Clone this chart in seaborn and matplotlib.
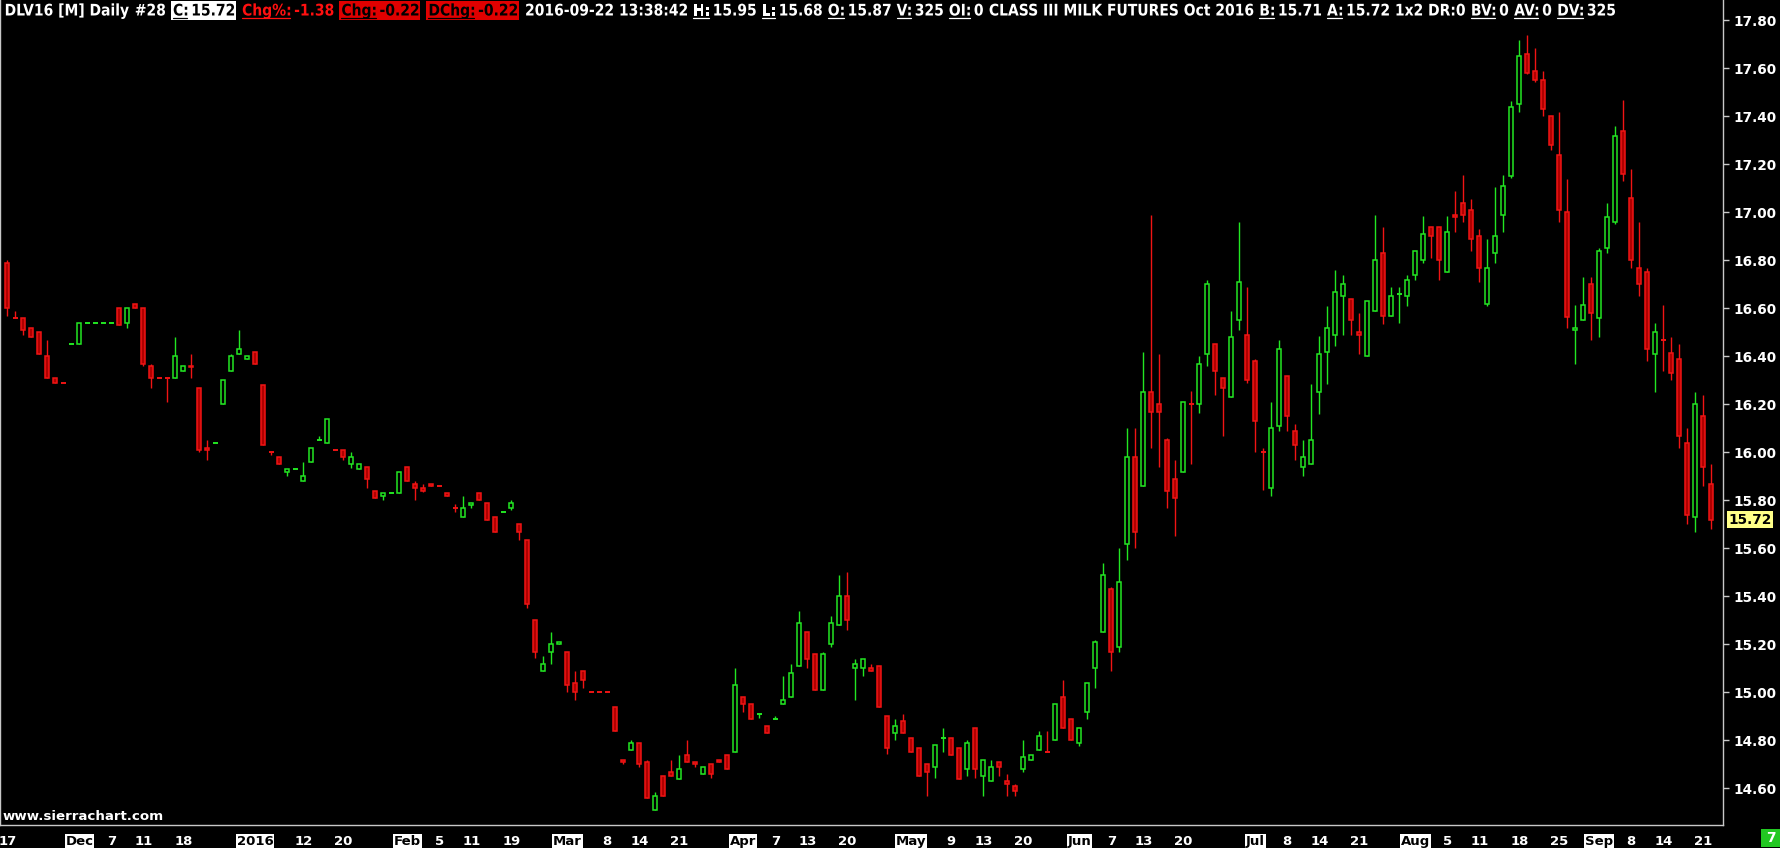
import numpy as np
import pandas as pd
import matplotlib
matplotlib.use("Agg")
import matplotlib.pyplot as plt
from matplotlib.patches import Rectangle, PathPatch
from matplotlib.lines import Line2D
from matplotlib.textpath import TextPath
from matplotlib.font_manager import FontProperties
from matplotlib.transforms import Affine2D
import seaborn as sns

# ---------------- data ----------------
open_ = [16.79, 16.56, 16.56, 16.52, 16.50, 16.40, 16.31, 16.29, 16.45, 16.45,
         16.54, 16.54, 16.54, 16.54, 16.60, 16.54, 16.62, 16.60, 16.36, 16.31,
         16.31, 16.31, 16.34, 16.36, 16.27, 16.02, 16.04, 16.20, 16.34, 16.41,
         16.39, 16.42, 16.28, 16.00, 15.98, 15.92, 15.93, 15.88, 15.96, 16.05,
         16.04, 16.01, 16.01, 15.95, 15.93, 15.94, 15.84, 15.82, 15.83, 15.83,
         15.94, 15.87, 15.85, 15.87, 15.86, 15.83, 15.77, 15.73, 15.78, 15.83,
         15.79, 15.73, 15.75, 15.77, 15.70, 15.635, 15.30, 15.09, 15.17, 15.20,
         15.17, 15.04, 15.09, 15.00, 15.00, 15.00, 14.94, 14.72, 14.76, 14.79,
         14.71, 14.51, 14.65, 14.67, 14.64, 14.74, 14.71, 14.66, 14.70, 14.72,
         14.74, 14.75, 14.98, 14.95, 14.91, 14.86, 14.89, 14.95, 14.98, 15.11,
         15.25, 15.16, 15.01, 15.20, 15.28, 15.40, 15.10, 15.10, 15.10, 15.11,
         14.90, 14.83, 14.88, 14.81, 14.77, 14.70, 14.69, 14.81, 14.81, 14.77,
         14.68, 14.85, 14.65, 14.63, 14.71, 14.63, 14.61, 14.68, 14.72, 14.76,
         14.75, 14.80, 14.98, 14.89, 14.79, 14.92, 15.10, 15.25, 15.43, 15.19,
         15.62, 15.98, 15.86, 16.25, 16.20, 16.05, 15.89, 15.92, 16.20, 16.20,
         16.41, 16.45, 16.31, 16.23, 16.55, 16.49, 16.38, 16.00, 15.85, 16.11,
         16.32, 16.09, 15.94, 15.95, 16.25, 16.42, 16.49, 16.65, 16.64, 16.50,
         16.40, 16.59, 16.83, 16.57, 16.66, 16.65, 16.74, 16.80, 16.94, 16.94,
         16.75, 16.99, 17.04, 17.01, 16.90, 16.62, 16.83, 16.99, 17.15, 17.45,
         17.66, 17.59, 17.55, 17.40, 17.24, 17.00, 16.51, 16.55, 16.70, 16.56,
         16.85, 16.96, 17.34, 17.06, 16.77, 16.75, 16.41, 16.47, 16.415, 16.39,
         16.04, 15.73, 16.15, 15.87]
high = [16.80, 16.59, 16.56, 16.52, 16.50, 16.47, 16.31, 16.29, 16.45, 16.54,
        16.54, 16.54, 16.54, 16.54, 16.60, 16.60, 16.62, 16.60, 16.37, 16.31,
        16.31, 16.48, 16.36, 16.41, 16.27, 16.05, 16.04, 16.30, 16.41, 16.51,
        16.40, 16.42, 16.28, 16.00, 15.98, 15.93, 15.93, 15.96, 16.02, 16.07,
        16.14, 16.01, 16.01, 16.00, 15.95, 15.94, 15.84, 15.83, 15.83, 15.92,
        15.94, 15.88, 15.87, 15.87, 15.86, 15.83, 15.785, 15.82, 15.79, 15.83,
        15.79, 15.73, 15.75, 15.80, 15.70, 15.635, 15.30, 15.15, 15.25, 15.21,
        15.17, 15.09, 15.09, 15.00, 15.00, 15.00, 14.94, 14.72, 14.80, 14.79,
        14.72, 14.585, 14.65, 14.72, 14.74, 14.80, 14.71, 14.69, 14.70, 14.72,
        14.74, 15.10, 14.98, 14.95, 14.91, 14.86, 14.90, 15.07, 15.12, 15.34,
        15.25, 15.16, 15.17, 15.32, 15.49, 15.50, 15.14, 15.14, 15.12, 15.11,
        14.90, 14.89, 14.91, 14.81, 14.77, 14.70, 14.78, 14.85, 14.81, 14.77,
        14.80, 14.85, 14.72, 14.72, 14.71, 14.66, 14.62, 14.80, 14.74, 14.84,
        14.84, 14.95, 15.05, 14.89, 14.85, 15.04, 15.22, 15.54, 15.44, 15.60,
        16.10, 16.10, 16.42, 16.99, 16.41, 16.06, 15.97, 16.21, 16.255, 16.40,
        16.72, 16.45, 16.31, 16.59, 16.96, 16.69, 16.39, 16.02, 16.21, 16.47,
        16.32, 16.12, 16.05, 16.285, 16.485, 16.61, 16.76, 16.74, 16.64, 16.58,
        16.63, 16.99, 16.94, 16.69, 16.69, 16.74, 16.84, 16.985, 16.94, 16.94,
        16.985, 17.09, 17.155, 17.055, 16.93, 16.89, 17.105, 17.155, 17.465, 17.72,
        17.74, 17.685, 17.59, 17.40, 17.42, 17.14, 16.615, 16.73, 16.73, 16.85,
        17.04, 17.36, 17.47, 17.18, 16.96, 16.77, 16.54, 16.615, 16.48, 16.45,
        16.10, 16.25, 16.24, 15.95]
low = [16.57, 16.56, 16.49, 16.48, 16.41, 16.31, 16.29, 16.29, 16.45, 16.45,
       16.54, 16.54, 16.54, 16.54, 16.53, 16.52, 16.60, 16.36, 16.27, 16.31,
       16.21, 16.31, 16.34, 16.31, 16.00, 15.97, 16.04, 16.20, 16.34, 16.41,
       16.39, 16.37, 16.03, 15.99, 15.95, 15.90, 15.93, 15.88, 15.96, 16.05,
       16.04, 16.01, 15.97, 15.935, 15.93, 15.85, 15.81, 15.80, 15.83, 15.83,
       15.88, 15.80, 15.835, 15.86, 15.86, 15.82, 15.75, 15.73, 15.77, 15.80,
       15.72, 15.67, 15.75, 15.76, 15.635, 15.35, 15.145, 15.09, 15.12, 15.20,
       15.00, 14.97, 15.02, 15.00, 15.00, 15.00, 14.84, 14.70, 14.76, 14.69,
       14.56, 14.51, 14.57, 14.65, 14.64, 14.71, 14.69, 14.66, 14.645, 14.71,
       14.68, 14.75, 14.92, 14.89, 14.895, 14.83, 14.89, 14.95, 14.98, 15.11,
       15.10, 15.01, 15.01, 15.19, 15.28, 15.26, 14.97, 15.07, 15.09, 14.94,
       14.745, 14.80, 14.83, 14.75, 14.65, 14.57, 14.645, 14.75, 14.74, 14.64,
       14.65, 14.645, 14.57, 14.63, 14.65, 14.57, 14.57, 14.67, 14.72, 14.76,
       14.75, 14.80, 14.85, 14.80, 14.775, 14.89, 15.02, 15.25, 15.09, 15.17,
       15.55, 15.60, 15.86, 16.02, 15.94, 15.77, 15.65, 15.92, 15.95, 16.165,
       16.36, 16.24, 16.07, 16.23, 16.51, 16.29, 16.00, 15.845, 15.82, 16.09,
       16.09, 15.97, 15.90, 15.95, 16.16, 16.285, 16.445, 16.49, 16.49, 16.41,
       16.40, 16.59, 16.535, 16.57, 16.54, 16.61, 16.72, 16.79, 16.81, 16.72,
       16.75, 16.92, 16.96, 16.84, 16.71, 16.61, 16.79, 16.92, 17.145, 17.42,
       17.575, 17.545, 17.40, 17.26, 16.96, 16.52, 16.37, 16.55, 16.47, 16.48,
       16.83, 16.95, 17.13, 16.77, 16.65, 16.38, 16.25, 16.34, 16.30, 16.02,
       15.70, 15.67, 15.86, 15.68]
close = [16.60, 16.56, 16.51, 16.48, 16.41, 16.31, 16.29, 16.29, 16.45, 16.54,
         16.54, 16.54, 16.54, 16.54, 16.53, 16.60, 16.60, 16.37, 16.31, 16.31,
         16.31, 16.40, 16.36, 16.355, 16.01, 16.01, 16.04, 16.30, 16.40, 16.43,
         16.40, 16.37, 16.03, 16.00, 15.95, 15.93, 15.93, 15.90, 16.02, 16.05,
         16.14, 16.01, 15.98, 15.98, 15.95, 15.89, 15.81, 15.83, 15.83, 15.92,
         15.88, 15.85, 15.84, 15.86, 15.86, 15.82, 15.77, 15.77, 15.79, 15.80,
         15.72, 15.67, 15.75, 15.79, 15.67, 15.37, 15.17, 15.12, 15.20, 15.21,
         15.03, 15.00, 15.05, 15.00, 15.00, 15.00, 14.84, 14.71, 14.79, 14.70,
         14.56, 14.57, 14.57, 14.65, 14.68, 14.71, 14.70, 14.69, 14.66, 14.71,
         14.68, 15.03, 14.95, 14.89, 14.91, 14.83, 14.89, 14.97, 15.08, 15.29,
         15.14, 15.01, 15.16, 15.29, 15.40, 15.30, 15.12, 15.14, 15.09, 14.94,
         14.77, 14.86, 14.83, 14.75, 14.65, 14.67, 14.78, 14.81, 14.74, 14.64,
         14.79, 14.68, 14.72, 14.69, 14.69, 14.62, 14.59, 14.73, 14.74, 14.82,
         14.75, 14.95, 14.85, 14.80, 14.85, 15.04, 15.21, 15.49, 15.17, 15.46,
         15.98, 15.67, 16.25, 16.17, 16.17, 15.84, 15.81, 16.21, 16.20, 16.37,
         16.70, 16.34, 16.27, 16.48, 16.71, 16.30, 16.13, 16.00, 16.10, 16.43,
         16.15, 16.03, 15.98, 16.05, 16.41, 16.52, 16.67, 16.70, 16.55, 16.49,
         16.63, 16.80, 16.57, 16.65, 16.66, 16.72, 16.84, 16.91, 16.90, 16.80,
         16.92, 16.98, 16.99, 16.89, 16.77, 16.77, 16.90, 17.11, 17.44, 17.65,
         17.58, 17.55, 17.43, 17.28, 17.01, 16.565, 16.52, 16.615, 16.58, 16.84,
         16.98, 17.32, 17.16, 16.80, 16.70, 16.43, 16.50, 16.47, 16.33, 16.07,
         15.74, 16.20, 15.94, 15.72]

holidays = ["2015-11-26", "2015-12-25", "2016-01-01", "2016-01-18", "2016-02-15",
            "2016-03-25", "2016-05-30", "2016-07-04", "2016-09-05"]

tick_dates = ["2015-11-17", "2015-12-01", "2015-12-07", "2015-12-11", "2015-12-18",
              "2016-01-04", "2016-01-12", "2016-01-20", "2016-02-01", "2016-02-05",
              "2016-02-11", "2016-02-19", "2016-03-01", "2016-03-08", "2016-03-14",
              "2016-03-21", "2016-04-01", "2016-04-07", "2016-04-13", "2016-04-20",
              "2016-05-02", "2016-05-09", "2016-05-13", "2016-05-20", "2016-06-01",
              "2016-06-07", "2016-06-13", "2016-06-20", "2016-07-01", "2016-07-08",
              "2016-07-14", "2016-07-21", "2016-08-01", "2016-08-05", "2016-08-11",
              "2016-08-18", "2016-08-25", "2016-09-01", "2016-09-08", "2016-09-14",
              "2016-09-21"]
tick_labels = ["17", "Dec", "7", "11", "18", "2016", "12", "20", "Feb", "5", "11", "19",
               "Mar", "8", "14", "21", "Apr", "7", "13", "20", "May", "9", "13", "20",
               "Jun", "7", "13", "20", "Jul", "8", "14", "21", "Aug", "5", "11", "18",
               "25", "Sep", "8", "14", "21"]
boxed_labels = ["Dec", "2016", "Feb", "Mar", "Apr", "May", "Jun", "Jul", "Aug", "Sep"]

price_ticks = [14.60, 14.80, 15.00, 15.20, 15.40, 15.60, 15.80, 16.00, 16.20,
               16.40, 16.60, 16.80, 17.00, 17.20, 17.40, 17.60, 17.80]
last_price = 15.72

hdr_labels = ["DLV16 [M]", "Daily", "#28", "C:", "Chg%:", "Chg:", "DChg:",
              "2016-09-22 13:38:42", "H:", "L:", "O:", "V:", "OI:",
              "CLASS III MILK FUTURES Oct 2016", "B:", "A:", "1x2", "DR:0",
              "BV:", "AV:", "DV:"]
hdr_values = [None, None, None, "15.72", "-1.38", "-0.22", "-0.22", None,
              "15.95", "15.68", "15.87", "325", "0", None, "15.71", "15.72",
              None, None, "0", "0", "325"]

# ---------------- style ----------------
sns.set_theme(style="dark", rc={"axes.facecolor": "black", "figure.facecolor": "black"})
plt.rcParams["font.family"] = ["DejaVu Sans"]

GREEN = "#22e622"
RED_EDGE = "#f01414"
RED_FILL = "#b00000"
AXIS_COL = "#c8c8c8"

W, H = 1781, 848
fig = plt.figure(figsize=(W / 100, H / 100), dpi=100, facecolor="black")
AX_R, AX_B = 1723.5, 825.0
ax = fig.add_axes([0, (H - AX_B) / H, AX_R / W, AX_B / H])
ax.set_facecolor("black")

dates = pd.bdate_range("2015-11-17", "2016-09-22").drop(pd.to_datetime(holidays))
O = np.array(open_); Hh = np.array(high); L = np.array(low); C = np.array(close)
n = len(C)
x = np.arange(n)

up = []
prev = True
for i in range(n):
    if C[i] > O[i] + 1e-9:
        d = True
    elif C[i] < O[i] - 1e-9:
        d = False
    elif i > 0 and C[i] > C[i - 1] + 1e-9:
        d = True
    elif i > 0 and C[i] < C[i - 1] - 1e-9:
        d = False
    else:
        d = prev
    up.append(d)
    prev = d
up = np.array(up)
edge_cols = np.where(up, GREEN, RED_EDGE)
fill_cols = np.where(up, "black", RED_FILL)

ax.vlines(x, L, Hh, colors=edge_cols, linewidth=1.0, zorder=2)
body = ~np.isclose(O, C)
bot = np.minimum(O, C)
hgt = np.abs(C - O)
ax.bar(x[body], hgt[body], bottom=bot[body], width=0.5, color=fill_cols[body],
       edgecolor=edge_cols[body], linewidth=1.1, zorder=3)
flat = ~body
ax.hlines(C[flat], x[flat] - 0.3, x[flat] + 0.3, colors=edge_cols[flat],
          linewidth=1.4, zorder=3)

ax.set_xlim(-7.3 / 8, (AX_R - 7.3) / 8)
ax.set_ylim(17.80 - (AX_B - 20.4) / 240, 17.80 + 20.4 / 240)

ax.yaxis.tick_right()
ax.set_yticks(price_ticks)
ax.set_yticklabels([f"{p:.2f}" for p in price_ticks])
ax.tick_params(axis="y", colors=AXIS_COL, length=4, width=1, pad=3,
               labelcolor="white", labelsize=9.8, direction="out")
for lab in ax.get_yticklabels():
    lab.set_fontweight("bold")

tick_pos = [dates.get_loc(pd.Timestamp(d)) for d in tick_dates]
ax.set_xticks(tick_pos)
ax.set_xticklabels(tick_labels)
ax.tick_params(axis="x", colors=AXIS_COL, length=4, width=1, pad=3,
               labelcolor="white", labelsize=9.5, direction="out")
for lab in ax.get_xticklabels():
    lab.set_fontweight("bold")
    if lab.get_text() in boxed_labels:
        lab.set_color("black")
        lab.set_bbox(dict(facecolor="white", edgecolor="none", pad=0.6))

ax.grid(False)
ax.spines["top"].set_visible(False)
for s in ["right", "bottom", "left"]:
    ax.spines[s].set_visible(True)
    ax.spines[s].set_color(AXIS_COL)
    ax.spines[s].set_linewidth(1.0)

ax.text(1.0 + 5 / AX_R, last_price, f"{last_price:.2f}",
        transform=ax.get_yaxis_transform(), ha="left", va="center",
        fontsize=9.8, fontweight="bold", color="black", zorder=10, clip_on=False,
        bbox=dict(facecolor="#ffff88", edgecolor="none", pad=1.2))

fig.patches.append(Rectangle((1761 / W, 1 - 847 / H), 19 / W, 18 / H,
                             transform=fig.transFigure, facecolor="#22c822",
                             edgecolor="none"))
fig.text(1770.5 / W, 1 - 838 / H, "7", ha="center", va="center", color="white",
         fontsize=10, fontweight="bold")

fig.canvas.draw()
renderer = fig.canvas.get_renderer()


def fit(text, target_w, weight="bold"):
    t = fig.text(0, 0, text, fontsize=10, fontweight=weight)
    w = t.get_window_extent(renderer).width
    t.remove()
    return 10 * target_w / w


wm_size = fit("www.sierrachart.com", 162)
fig.text(3 / W, 1 - 816 / H, "www.sierrachart.com", ha="left", va="center",
         color="white", fontsize=wm_size, fontweight="bold")

# ---------------- header drawn as condensed text paths ----------------
FP = FontProperties(family="DejaVu Sans", weight="bold")
SIZE_PX = 16.0
BASE_Y = 15.5
X_START, X_END = 4.6, 1615.0
GAP_LV = 4.0     # label -> value
GAP_SEG = 6.0    # between segments
BOX_PAD = 2.0
boxes = {3: ("white", "black"), 5: ("#e00000", "black"), 6: ("#e00000", "black")}


def tp(s):
    return TextPath((0, 0), s, size=SIZE_PX, prop=FP)


nat = 0.0
fixed = GAP_SEG * (len(hdr_labels) - 1)
for lab, val in zip(hdr_labels, hdr_values):
    nat += tp(lab).get_extents().x1
    if val is not None:
        nat += tp(val).get_extents().x1
        fixed += GAP_LV
fixed += 2 * BOX_PAD * len(boxes)
SX = (X_END - X_START - fixed) / nat


def draw_path_text(s, x_left, color):
    p = tp(s)
    tr = Affine2D().scale(SX, 1.0).translate(x_left, H - BASE_Y)
    fig.patches.append(PathPatch(p, transform=tr, facecolor=color,
                                 edgecolor="none", zorder=5))
    return x_left + p.get_extents().x1 * SX


xx = X_START
for k, (lab, val) in enumerate(zip(hdr_labels, hdr_values)):
    fg = "white"
    if k in boxes:
        bg, fg = boxes[k]
        x0 = xx
        xx += BOX_PAD
    if k == 4:
        fg = "#ff1010"
    xe = draw_path_text(lab, xx, fg)
    end = xe
    if val is not None:
        fig.lines.append(Line2D([xx / W, xe / W], [1 - 17.5 / H, 1 - 17.5 / H],
                                transform=fig.transFigure, color=fg,
                                linewidth=0.9, zorder=5))
        end = draw_path_text(val, xe + GAP_LV, fg)
    if k in boxes:
        end += BOX_PAD
        fig.patches.append(Rectangle((x0 / W, 1 - 19.5 / H), (end - x0) / W, 18.5 / H,
                                     transform=fig.transFigure, facecolor=bg,
                                     edgecolor="none", zorder=1))
    xx = end + GAP_SEG

fig.savefig("out.png", dpi=100, facecolor="black")
